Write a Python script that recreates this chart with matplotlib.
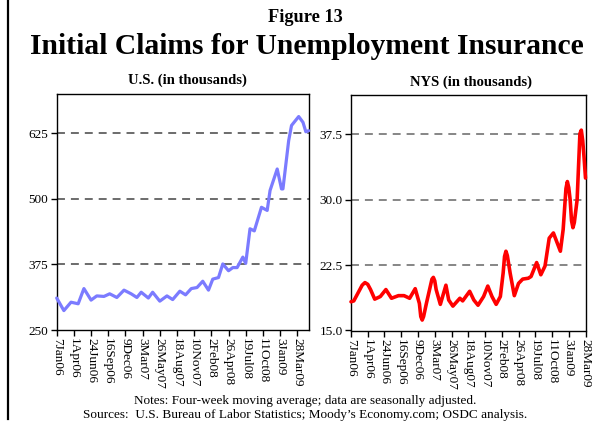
import numpy as np
import pandas as pd
import matplotlib
matplotlib.use("Agg")
import matplotlib.pyplot as plt
from matplotlib.lines import Line2D

plt.rcParams["font.family"] = ["Liberation Serif", "DejaVu Serif"]

# ── Data (x = weeks since 7Jan06) ─────────────────────────────────────────────
us_week = [0, 5, 10, 15, 19, 24, 28, 33, 37, 42, 47, 52, 56, 59, 64, 67, 72, 77,
           81, 86, 90, 94, 98, 102, 106, 109, 113, 116, 120, 123, 126, 130, 132,
           135, 138, 143, 147, 149, 154, 157, 158, 162, 164, 169, 172, 174, 176]
us_val = [311, 287, 303, 300, 329, 307, 315, 314, 319, 312, 326, 319, 312, 322,
          311, 322, 305, 315, 308, 324, 317, 329, 331, 343, 326, 347, 350, 376,
          363, 369, 369, 389, 377, 443, 439, 484, 478, 516, 557, 519, 519, 611,
          640, 657, 646, 628, 630]

nys_week = [0, 2, 5, 8, 10, 12, 14, 17, 21, 25, 29, 34, 38, 42, 46, 49, 50, 51,
            52, 54, 58, 59, 60, 61, 64, 68, 70, 73, 78, 80, 85, 88, 91, 95, 98,
            101, 104, 107, 109, 110, 111, 112, 114, 117, 120, 123, 127, 129, 133,
            136, 139, 142, 145, 150, 152, 154, 155, 156, 157, 158, 159, 160, 162,
            164, 165, 166, 167, 168]
nys_val = [18.3, 18.4, 19.3, 20.2, 20.5, 20.3, 19.7, 18.6, 18.9, 19.7, 18.7,
           19.0, 19.0, 18.7, 19.8, 18.1, 16.6, 16.2, 16.6, 18.1, 20.9, 21.1,
           20.7, 19.7, 18.0, 20.2, 18.5, 17.8, 18.7, 18.4, 19.5, 18.5, 17.9,
           18.9, 20.1, 18.9, 18.0, 18.9, 21.6, 23.5, 24.1, 23.6, 21.6, 19.0,
           20.4, 20.9, 21.0, 21.2, 22.8, 21.4, 22.4, 25.6, 26.2, 24.1, 26.6,
           31.3, 32.1, 31.4, 30.0, 27.6, 26.8, 27.4, 30.0, 37.6, 38.0, 36.8,
           34.8, 32.5]

tick_labels = ["7Jan06", "1Apr06", "24Jun06", "16Sep06", "9Dec06", "3Mar07",
               "26May07", "18Aug07", "10Nov07", "2Feb08", "26Apr08", "19Jul08",
               "11Oct08", "3Jan09", "28Mar09"]
tick_week = [0, 12, 24, 36, 48, 60, 72, 84, 96, 108, 120, 132, 144, 156, 168]

us_ticks = [250, 375, 500, 625]
nys_ticks = [15.0, 22.5, 30.0, 37.5]

# ── Figure ────────────────────────────────────────────────────────────────────
W, H = 610, 423
fig = plt.figure(figsize=(W / 100, H / 100), dpi=100)


def px_axes(l, t, r, b):
    return fig.add_axes([l / W, 1 - b / H, (r - l) / W, (b - t) / H])


def style(ax, yticks, ylabels, ylim, xlim, grid_color):
    ax.set_xlim(*xlim)
    ax.set_ylim(*ylim)
    ax.set_yticks(yticks)
    ax.set_yticklabels(ylabels, fontsize=9.5)
    ax.set_xticks(tick_week)
    ax.set_xticklabels(tick_labels, rotation=270, fontsize=9.5, va="top", ha="center")
    ax.tick_params(direction="out", length=4, width=1, pad=2)
    for s in ax.spines.values():
        s.set_linewidth(1)
    for y in yticks[1:]:
        ax.axhline(y, color=grid_color, lw=1.1, ls=(0, (5.2, 3.9)), zorder=1)


ax1 = px_axes(56.7, 94, 309, 330)
style(ax1, us_ticks, ["250", "375", "500", "625"], (250, 700), (0, 176.2), "#444444")
ax1.plot(us_week, us_val, color="#7b7bff", lw=2.3, solid_joinstyle="round",
         solid_capstyle="round", zorder=3, clip_on=False)

ax2 = px_axes(351, 95.3, 585.5, 330.5)
style(ax2, nys_ticks, ["15.0", "22.5", "30.0", "37.5"], (15, 42), (0, 168), "#666666")
ax2.plot(nys_week, nys_val, color="#ff0000", lw=2.6, solid_joinstyle="round",
         solid_capstyle="round", zorder=3, clip_on=False)

# ── Text ──────────────────────────────────────────────────────────────────────
fig.text(305 / W, 1 - 17 / H, "Figure 13", ha="center", va="center",
         fontsize=13.2, fontweight="bold")
fig.text(307 / W, 1 - 47 / H, "Initial Claims for Unemployment Insurance",
         ha="center", va="center", fontsize=21.3, fontweight="bold")
fig.text(187 / W, 1 - 80.7 / H, "U.S. (in thousands)", ha="center", va="center",
         fontsize=10.5, fontweight="bold")
fig.text(471 / W, 1 - 82.5 / H, "NYS (in thousands)", ha="center", va="center",
         fontsize=10.5, fontweight="bold")
fig.text(305 / W, 1 - 401 / H,
         "Notes: Four-week moving average; data are seasonally adjusted.",
         ha="center", va="center", fontsize=9.5)
fig.text(305 / W, 1 - 415 / H,
         "Sources:  U.S. Bureau of Labor Statistics; Moody\u2019s Economy.com; OSDC analysis.",
         ha="center", va="center", fontsize=9.5)

# left frame line
fig.add_artist(Line2D([8 / W, 8 / W], [0.01, 1], transform=fig.transFigure,
                      color="black", lw=1.6))

fig.savefig("out.png", dpi=100)
